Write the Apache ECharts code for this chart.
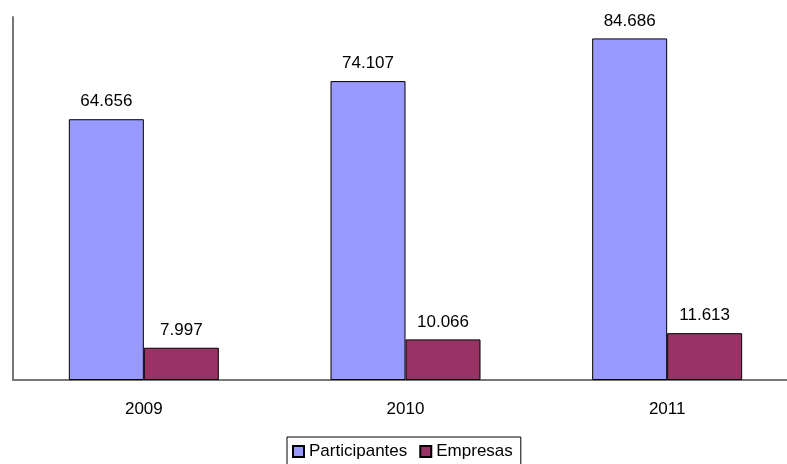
<!DOCTYPE html>
<html>
<head>
<meta charset="utf-8">
<script src="https://cdn.jsdelivr.net/npm/echarts@6/dist/echarts.min.js"></script>
<style>
  html, body { margin: 0; padding: 0; background: #fff; overflow: hidden; }
  #chart { width: 800px; height: 464px; }
</style>
</head>
<body>
<div id="chart"></div>
<script>
// datos
const years = ["2009", "2010", "2011"];
const participantes = [64656, 74107, 84686];
const empresas = [7997, 10066, 11613];

// 64656 -> "64.656"
function fmt(v) {
  return String(v).replace(/\B(?=(\d{3})+(?!\d))/g, ".");
}

// el div es algo mas ancho que la ventana: el eje x se corta en el borde derecho
const chart = echarts.init(document.getElementById("chart"));

const font = "Liberation Sans, Arial, sans-serif";

const labelStyle = {
  show: true,
  position: "top",
  distance: 9,
  fontFamily: font,
  fontSize: 17,
  color: "#000",
  formatter: (p) => fmt(p.value),
};

chart.setOption({
  animation: false,
  grid: {
    left: 13,
    top: 17,
    right: 2,
    bottom: 84,
  },
  legend: {
    bottom: -8,
    left: 287,
    itemWidth: 11,
    itemHeight: 11,
    itemGap: 12,
    padding: [6, 8, 12, 5],
    borderColor: "#000",
    borderWidth: 1,
    borderRadius: 0,
    textStyle: { fontFamily: font, fontSize: 17, color: "#000" },
    data: [
      { name: "Participantes", icon: "rect" },
      { name: "Empresas", icon: "rect" },
    ],
  },
  xAxis: {
    type: "category",
    data: years,
    axisLine: { lineStyle: { color: "#777", width: 2 } },
    axisTick: { show: false },
    axisLabel: { margin: 21, fontFamily: font, fontSize: 17, color: "#000" },
  },
  yAxis: {
    type: "value",
    min: 0,
    max: 90000,
    axisLine: { show: true, lineStyle: { color: "#777", width: 2 } },
    axisTick: { show: false },
    axisLabel: { show: false },
    splitLine: { show: false },
  },
  series: [
    {
      name: "Participantes",
      type: "bar",
      data: participantes,
      barWidth: 75,
      barGap: "0%",
      itemStyle: { color: "#9999FF", borderColor: "#000", borderWidth: 1 },
      label: labelStyle,
    },
    {
      name: "Empresas",
      type: "bar",
      data: empresas,
      barWidth: 75,
      barGap: "0%",
      itemStyle: { color: "#993366", borderColor: "#000", borderWidth: 1 },
      label: labelStyle,
    },
  ],
});
</script>
</body>
</html>
